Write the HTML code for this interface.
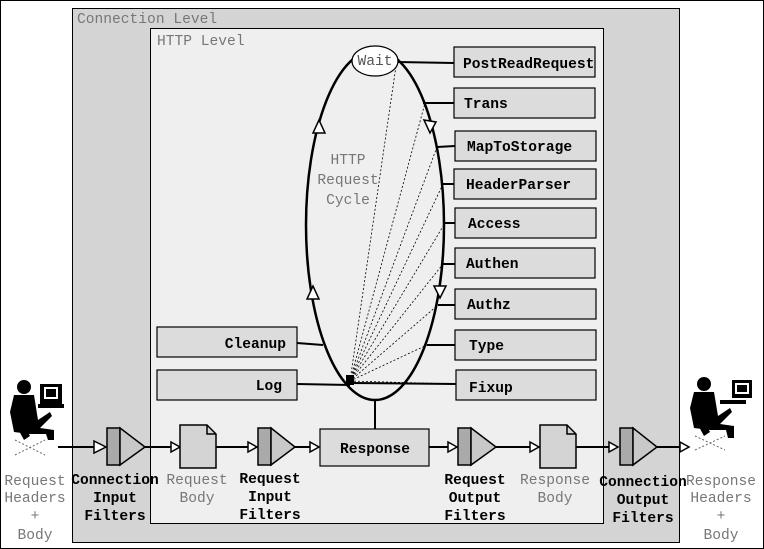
<!DOCTYPE html>
<html><head><style>
html,body{margin:0;padding:0;background:#fff}
svg{display:block}
text{font-family:"Liberation Mono",monospace;font-size:14.6px}
.b{font-weight:bold;fill:#000}
.g{fill:#777}
</style></head><body>
<svg width="764" height="549" viewBox="0 0 764 549" xmlns="http://www.w3.org/2000/svg">
<rect x="0.5" y="0.5" width="763" height="548" fill="#fff" stroke="#000"/>
<rect x="72.5" y="8.5" width="607" height="534" fill="#d4d4d4" stroke="#000"/>
<text x="77" y="23" class="g">Connection Level</text>
<rect x="150.5" y="28.5" width="453" height="495" fill="#efefef" stroke="#000"/>
<text x="157" y="45" class="g">HTTP Level</text>

<g stroke="#000" stroke-width="2" fill="none">
<line x1="397" y1="62" x2="454" y2="63"/>
<line x1="423" y1="103" x2="454" y2="103"/>
<line x1="437" y1="147" x2="455" y2="146"/>
<line x1="443" y1="184" x2="454" y2="184"/>
<line x1="445" y1="223" x2="455" y2="223"/>
<line x1="443" y1="264" x2="455" y2="264"/>
<line x1="438" y1="305" x2="455" y2="305"/>
<line x1="427" y1="345" x2="455" y2="345"/>
<line x1="350" y1="383" x2="456" y2="384"/>
<line x1="297" y1="343" x2="323" y2="345"/>
<line x1="297" y1="384" x2="350" y2="385"/>
<line x1="375" y1="399" x2="375" y2="429"/>
</g>
<g stroke="#000" stroke-width="0.8" stroke-dasharray="2,2" fill="none">
<line x1="350" y1="381" x2="396" y2="66"/>
<line x1="350" y1="381" x2="425" y2="103"/>
<line x1="350" y1="381" x2="437" y2="147"/>
<line x1="350" y1="381" x2="443" y2="184"/>
<line x1="350" y1="381" x2="445" y2="223"/>
<line x1="350" y1="381" x2="443" y2="264"/>
<line x1="350" y1="381" x2="438" y2="305"/>
<line x1="350" y1="381" x2="427" y2="345"/>
<line x1="350" y1="381" x2="456" y2="384"/>
</g>
<ellipse cx="375" cy="225" rx="69" ry="175" fill="none" stroke="#000" stroke-width="2.5"/>
<rect x="346" y="375" width="8" height="10" fill="#000"/>
<g fill="#fff" stroke="#000" stroke-width="1.5">
<polygon points="319,120 313,133 325,133"/>
<polygon points="313,286 307,299 319,299"/>
<polygon points="424,120 436,122 430,133"/>
<polygon points="434,286 446,286 440,298"/>
</g>
<ellipse cx="375" cy="61" rx="23" ry="15" fill="#fff" stroke="#000" stroke-width="1.2"/>
<text x="375" y="65" text-anchor="middle" fill="#555">Wait</text>
<text x="348" y="164" text-anchor="middle" class="g">HTTP</text>
<text x="348" y="184" text-anchor="middle" class="g">Request</text>
<text x="348" y="204" text-anchor="middle" class="g">Cycle</text>

<g fill="#dcdcdc" stroke="#000" stroke-width="1.2">
<rect x="454" y="47" width="141" height="30"/>
<rect x="454" y="88" width="141" height="30"/>
<rect x="455" y="131" width="141" height="30"/>
<rect x="454" y="169" width="142" height="30"/>
<rect x="455" y="208" width="141" height="30"/>
<rect x="455" y="248" width="140" height="30"/>
<rect x="455" y="289" width="141" height="30"/>
<rect x="455" y="330" width="141" height="30"/>
<rect x="456" y="370" width="140" height="30"/>
<rect x="157" y="327" width="140" height="30"/>
<rect x="157" y="370" width="140" height="30"/>
<rect x="320" y="429" width="109" height="37"/>
</g>
<text x="463" y="68" class="b">PostReadRequest</text>
<text x="464" y="108" class="b">Trans</text>
<text x="467" y="151" class="b">MapToStorage</text>
<text x="466" y="189" class="b">HeaderParser</text>
<text x="468" y="228" class="b">Access</text>
<text x="466" y="268" class="b">Authen</text>
<text x="467" y="309" class="b">Authz</text>
<text x="469" y="350" class="b">Type</text>
<text x="469" y="392" class="b">Fixup</text>
<text x="286" y="348" text-anchor="end" class="b">Cleanup</text>
<text x="282" y="390" text-anchor="end" class="b">Log</text>
<text x="375" y="453" text-anchor="middle" class="b">Response</text>

<g stroke="#000" stroke-width="2">
<line x1="58" y1="447" x2="96" y2="447"/>
<line x1="145" y1="447" x2="172" y2="447"/>
<line x1="216" y1="447" x2="248" y2="447"/>
<line x1="295" y1="447" x2="310" y2="447"/>
<line x1="429" y1="447" x2="448" y2="447"/>
<line x1="496" y1="447" x2="530" y2="447"/>
<line x1="576" y1="447" x2="609" y2="447"/>
<line x1="657" y1="447" x2="680" y2="447"/>
</g>
<g fill="#fff" stroke="#000" stroke-width="1.5">
<polygon points="94,441 106,447 94,453"/>
<polygon points="171,442 180,447 171,452"/>
<polygon points="248,442 257,447 248,452"/>
<polygon points="310,442 319,447 310,452"/>
<polygon points="448,442 457,447 448,452"/>
<polygon points="530,442 539,447 530,452"/>
<polygon points="609,442 618,447 609,452"/>
<polygon points="680,442 689,447 680,452"/>
</g>
<g stroke="#000" stroke-width="1.5">
<rect x="107" y="428" width="13" height="37" fill="#aaa"/><polygon points="120,428 145,447 120,465" fill="#c8c8c8"/>
<rect x="258" y="428" width="13" height="37" fill="#aaa"/><polygon points="271,428 295,447 271,465" fill="#c8c8c8"/>
<rect x="458" y="428" width="13" height="37" fill="#aaa"/><polygon points="471,428 496,447 471,465" fill="#c8c8c8"/>
<rect x="620" y="428" width="13" height="37" fill="#aaa"/><polygon points="633,428 657,447 633,465" fill="#c8c8c8"/>
<polygon points="180,425 207,425 216,434 216,468 180,468" fill="#d4d4d4"/>
<polyline points="207,425 207,434 216,434" fill="none"/>
<polygon points="540,425 567,425 576,434 576,468 540,468" fill="#d4d4d4"/>
<polyline points="567,425 567,434 576,434" fill="none"/>
</g>
<g fill="#000">
<rect x="40" y="384" width="22" height="20"/><rect x="44" y="387" width="14" height="12" fill="#fff"/><rect x="46" y="389" width="10" height="8"/>
<circle cx="24" cy="387" r="7"/>
<path d="M14,395 L34,395 L38,420 L50,412 L52,416 L40,428 L54,430 L54,440 L48,440 L46,434 L30,434 L14,432 L10,412 Z"/>
<path d="M12,418 L24,440 L30,436 L18,414Z"/>
<rect x="38" y="404" width="26" height="4"/>
<rect x="732" y="380" width="20" height="18"/><rect x="735" y="383" width="14" height="11" fill="#fff"/><rect x="737" y="385" width="10" height="7"/>
<circle cx="704" cy="384" r="7"/>
<path d="M694,392 L714,392 L718,416 L730,408 L732,412 L720,424 L734,426 L734,438 L728,438 L726,430 L710,430 L694,428 L690,408 Z"/>
<path d="M692,414 L704,436 L710,432 L698,410Z"/>
<rect x="720" y="400" width="26" height="4"/>
</g>
<g stroke="#666" stroke-width="1" stroke-dasharray="2,2">
<line x1="15" y1="455" x2="45" y2="440"/><line x1="15" y1="440" x2="45" y2="455"/>
<line x1="695" y1="450" x2="725" y2="436"/><line x1="695" y1="436" x2="725" y2="450"/>
</g>

<g text-anchor="middle">
<text x="35" y="485" class="g">Request</text><text x="35" y="502" class="g">Headers</text><text x="35" y="520" class="g">+</text><text x="35" y="539" class="g">Body</text>
<text x="115" y="484" class="b">Connection</text><text x="115" y="502" class="b">Input</text><text x="115" y="520" class="b">Filters</text>
<text x="197" y="484" class="g">Request</text><text x="197" y="502" class="g">Body</text>
<text x="270" y="483" class="b">Request</text><text x="270" y="501" class="b">Input</text><text x="270" y="519" class="b">Filters</text>
<text x="475" y="484" class="b">Request</text><text x="475" y="502" class="b">Output</text><text x="475" y="520" class="b">Filters</text>
<text x="555" y="484" class="g">Response</text><text x="555" y="502" class="g">Body</text>
<text x="643" y="486" class="b">Connection</text><text x="643" y="504" class="b">Output</text><text x="643" y="522" class="b">Filters</text>
<text x="721" y="485" class="g">Response</text><text x="721" y="502" class="g">Headers</text><text x="721" y="520" class="g">+</text><text x="721" y="539" class="g">Body</text>
</g>
</svg>
</body></html>
